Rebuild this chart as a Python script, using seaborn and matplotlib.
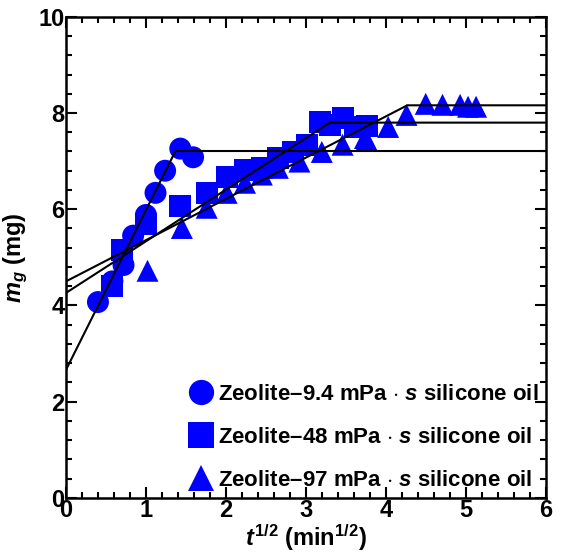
import numpy as np
import pandas as pd
import matplotlib
matplotlib.use("Agg")
import matplotlib.pyplot as plt
from matplotlib.ticker import MultipleLocator
import seaborn as sns

# data
labels = ["Zeolite–9.4 mPa $\\cdot$ $s$ silicone oil",
          "Zeolite–48 mPa $\\cdot$ $s$ silicone oil",
          "Zeolite–97 mPa $\\cdot$ $s$ silicone oil"]

x_94 = [0.40, 0.58, 0.72, 0.84, 1.00, 1.00, 1.12, 1.24, 1.43, 1.59]
y_94 = [4.07, 4.50, 4.84, 5.45, 5.75, 5.88, 6.34, 6.80, 7.26, 7.08]

x_48 = [0.58, 0.70, 1.00, 1.43, 1.76, 2.01, 2.24, 2.45, 2.65, 2.84,
        3.01, 3.18, 3.30, 3.46, 3.61, 3.76]
y_48 = [4.40, 5.16, 5.70, 6.07, 6.34, 6.67, 6.82, 6.86, 7.07, 7.19,
        7.34, 7.82, 7.75, 7.90, 7.71, 7.73]

x_97 = [1.02, 1.45, 1.76, 2.01, 2.24, 2.45, 2.65, 2.92, 3.20, 3.46,
        3.74, 3.76, 4.03, 4.26, 4.50, 4.71, 4.93, 5.03, 5.13]
y_97 = [4.72, 5.61, 6.03, 6.34, 6.55, 6.72, 6.86, 6.99, 7.19, 7.34,
        7.48, 7.44, 7.71, 7.96, 8.19, 8.17, 8.17, 8.13, 8.13]

# piecewise fit lines (x, y breakpoints)
fit_x = [[0, 1.37, 6], [0, 3.30, 6], [0, 4.27, 6]]
fit_y = [[2.66, 7.21, 7.21], [4.26, 7.80, 7.80], [4.50, 8.16, 8.16]]

df = pd.concat([
    pd.DataFrame({"x": x_94, "y": y_94, "oil": labels[0]}),
    pd.DataFrame({"x": x_48, "y": y_48, "oil": labels[1]}),
    pd.DataFrame({"x": x_97, "y": y_97, "oil": labels[2]}),
])

sns.set_style("ticks")
plt.rcParams['font.family'] = ['Liberation Sans', 'DejaVu Sans']
plt.rcParams['font.weight'] = 'bold'
plt.rcParams['mathtext.fontset'] = 'custom'
plt.rcParams['mathtext.rm'] = 'Liberation Sans:bold'
plt.rcParams['mathtext.bf'] = 'Liberation Sans:bold'
plt.rcParams['mathtext.it'] = 'Liberation Sans:italic:bold'
plt.rcParams['text.color'] = 'black'
plt.rcParams['axes.labelcolor'] = 'black'
plt.rcParams['xtick.color'] = 'black'
plt.rcParams['ytick.color'] = 'black'
plt.rcParams['axes.edgecolor'] = 'black'

fig = plt.figure(figsize=(5.61, 5.60), dpi=100)
ax = fig.add_axes([0.1176, 0.111, 0.855, 0.859])

for fx, fy in zip(fit_x, fit_y):
    sns.lineplot(x=fx, y=fy, ax=ax, color='black', linewidth=1.5, sort=False, zorder=3)

sns.scatterplot(data=df, x="x", y="y", style="oil",
                markers={labels[0]: 'o', labels[1]: 's', labels[2]: '^'},
                color='#0000ff', s=250, edgecolor='none', ax=ax, zorder=2)

ax.set_xlim(0, 6)
ax.set_ylim(0, 10)
ax.xaxis.set_major_locator(MultipleLocator(1))
ax.xaxis.set_minor_locator(MultipleLocator(0.2))
ax.yaxis.set_major_locator(MultipleLocator(2))
ax.yaxis.set_minor_locator(MultipleLocator(0.4))
ax.tick_params(which='both', direction='in', top=True, right=True, width=1.5)
ax.tick_params(which='major', length=8, labelsize=17, pad=1)
ax.tick_params(which='minor', length=4)
for sp in ax.spines.values():
    sp.set_linewidth(1.8)

ax.set_xlabel(r'$t^{1/2}$ (min$^{1/2}$)', fontsize=17, fontweight='bold', labelpad=0)
ax.set_ylabel(r'$m_g$ (mg)', fontsize=17, fontweight='bold', labelpad=6)

ax.legend(loc='lower right', frameon=False, fontsize=16, markerscale=1.15,
          handletextpad=0.15, labelspacing=1.0, borderaxespad=0.0,
          borderpad=0.3, handlelength=1.3)

fig.savefig("out.png", dpi=100)
